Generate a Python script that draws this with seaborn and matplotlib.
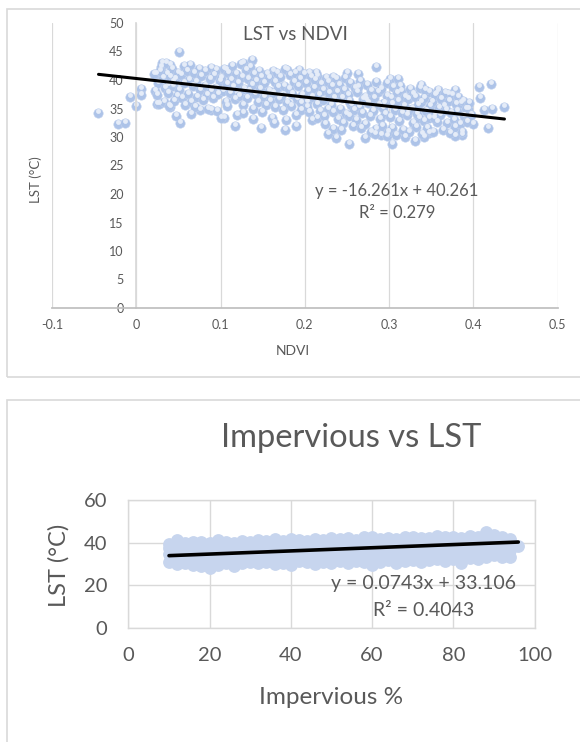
import matplotlib
matplotlib.use('Agg')
import matplotlib.pyplot as plt
import seaborn as sns
import pandas as pd
from matplotlib.patches import Rectangle
from matplotlib.path import Path

# ---- LST vs NDVI scatter ----
ndvi = [
    -0.046, -0.022, -0.013, -0.008, 0.000, 0.006, 0.006, 0.051, 0.052, 0.047, 0.065,
    0.285, 0.253, 0.304, 0.331, 0.407, 0.421, 0.408, 0.413, 0.422, 0.436, 0.418, 0.400, 0.394,
    0.237, 0.271, 0.227, 0.148, 0.117, 0.189, 0.177, 0.137, 0.126, 0.030, 0.040,
    0.263, 0.250, 0.301, 0.311, 0.338, 0.378, 0.358, 0.387, 0.378, 0.347, 0.341, 0.319, 0.290, 0.298,
    0.104, 0.100, 0.088, 0.075, 0.025, 0.040, 0.023, 0.106, 0.162, 0.179, 0.193, 0.205, 0.215, 0.233, 0.356, 0.370,
    0.021, 0.022, 0.024, 0.026, 0.027, 0.029, 0.031, 0.033, 0.028,
    0.034, 0.036, 0.037, 0.039, 0.035, 0.038, 0.040,
    0.042, 0.043, 0.045, 0.046, 0.048, 0.049, 0.044,
    0.051, 0.053, 0.054, 0.056, 0.057, 0.058, 0.060,
    0.061, 0.062, 0.064, 0.065, 0.067, 0.068, 0.070,
    0.071, 0.072, 0.074, 0.076, 0.077, 0.079,
    0.081, 0.082, 0.084, 0.085, 0.087, 0.089, 0.088,
    0.091, 0.092, 0.094, 0.095, 0.097, 0.099, 0.096,
    0.101, 0.103, 0.104, 0.106, 0.107, 0.109, 0.108,
    0.111, 0.112, 0.114, 0.115, 0.117, 0.118, 0.119,
    0.121, 0.122, 0.124, 0.125, 0.127, 0.128, 0.130, 0.126,
    0.131, 0.132, 0.134, 0.135, 0.137, 0.138, 0.140, 0.139,
    0.141, 0.142, 0.144, 0.145, 0.147, 0.149, 0.148,
    0.151, 0.152, 0.154, 0.155, 0.157, 0.159, 0.158,
    0.161, 0.162, 0.164, 0.165, 0.167, 0.169, 0.168, 0.163,
    0.171, 0.172, 0.174, 0.175, 0.177, 0.179, 0.178,
    0.181, 0.182, 0.184, 0.185, 0.187, 0.189, 0.188,
    0.191, 0.192, 0.194, 0.195, 0.197, 0.199, 0.196,
    0.201, 0.202, 0.204, 0.205, 0.207, 0.209, 0.208, 0.203,
    0.211, 0.212, 0.214, 0.215, 0.217, 0.219, 0.218, 0.213,
    0.221, 0.222, 0.224, 0.225, 0.227, 0.229, 0.228, 0.223,
    0.231, 0.232, 0.234, 0.235, 0.237, 0.239, 0.238, 0.233,
    0.241, 0.242, 0.244, 0.245, 0.247, 0.249, 0.248, 0.243,
    0.251, 0.252, 0.254, 0.255, 0.257, 0.259, 0.258, 0.253,
    0.261, 0.262, 0.264, 0.265, 0.267, 0.269, 0.268, 0.263,
    0.271, 0.272, 0.274, 0.275, 0.277, 0.279, 0.278, 0.273,
    0.281, 0.282, 0.284, 0.285, 0.287, 0.289, 0.288, 0.283,
    0.291, 0.292, 0.294, 0.295, 0.297, 0.299, 0.298, 0.293,
    0.301, 0.302, 0.304, 0.305, 0.307, 0.309, 0.308, 0.303,
    0.311, 0.312, 0.314, 0.315, 0.317, 0.319, 0.318, 0.313,
    0.321, 0.322, 0.324, 0.325, 0.327, 0.329, 0.328, 0.323,
    0.331, 0.332, 0.334, 0.335, 0.337, 0.339, 0.338, 0.333,
    0.341, 0.342, 0.344, 0.345, 0.347, 0.349, 0.348, 0.343,
    0.351, 0.352, 0.354, 0.355, 0.357, 0.359, 0.358, 0.353,
    0.361, 0.362, 0.364, 0.365, 0.367, 0.369, 0.368,
    0.371, 0.372, 0.374, 0.375, 0.377, 0.379, 0.378,
    0.381, 0.382, 0.384, 0.385, 0.387, 0.389, 0.388,
    0.391, 0.393, 0.395, 0.397,
]
lst_ndvi = [
    34.2, 32.2, 32.4, 37.0, 35.4, 38.5, 37.3, 44.9, 32.4, 33.7, 34.0,
    42.3, 28.7, 28.8, 29.3, 38.8, 39.3, 36.9, 34.7, 35.0, 35.3, 31.6, 32.3, 35.0,
    29.9, 29.9, 30.6, 31.6, 32.0, 31.9, 31.3, 43.5, 43.0, 43.0, 42.6,
    41.1, 41.2, 40.1, 40.1, 39.2, 38.2, 38.3, 30.3, 30.2, 30.7, 30.0, 30.0, 30.3, 30.2,
    33.3, 33.4, 34.7, 34.7, 35.8, 35.3, 41.1, 41.7, 41.5, 41.7, 41.8, 41.3, 40.7, 40.5, 37.6, 37.5,
    41.0, 38.0, 37.4, 39.5, 35.8, 42.2, 40.3, 36.2, 41.6,
    38.6, 41.0, 39.2, 35.5, 43.0, 37.8, 40.5,
    42.0, 38.9, 36.3, 40.1, 37.2, 41.3, 39.7,
    38.3, 40.8, 36.9, 42.4, 39.4, 35.7, 41.6,
    37.6, 40.0, 42.6, 36.1, 38.9, 41.2, 35.2,
    39.6, 37.0, 42.0, 38.2, 40.7, 36.5,
    41.5, 39.0, 37.4, 35.0, 40.2, 42.1, 38.1,
    36.8, 40.9, 38.6, 41.7, 37.5, 39.8, 34.6,
    40.4, 38.0, 42.0, 36.2, 39.3, 41.3, 35.4,
    37.8, 40.0, 42.4, 38.8, 36.6, 41.0, 33.8,
    39.5, 37.2, 42.8, 40.6, 35.6, 38.4, 41.8, 34.2,
    36.9, 40.2, 38.0, 42.3, 39.2, 35.0, 41.1, 33.2,
    37.6, 39.9, 36.1, 41.6, 38.5, 34.4, 40.6,
    37.0, 39.4, 35.6, 41.0, 38.1, 36.4, 40.3,
    33.4, 37.8, 39.7, 35.2, 41.2, 36.7, 38.7, 32.5,
    40.5, 37.2, 34.7, 39.0, 41.9, 36.0, 33.0,
    38.4, 40.8, 35.5, 37.6, 39.6, 33.8, 41.3,
    36.6, 38.9, 40.1, 34.8, 37.3, 41.0, 35.9,
    39.4, 36.1, 38.0, 34.3, 40.6, 37.1, 32.9, 35.3,
    38.6, 40.0, 35.8, 33.4, 37.4, 39.3, 34.6, 41.2,
    36.5, 38.2, 32.2, 40.3, 34.9, 37.7, 39.6, 33.6,
    35.6, 38.9, 31.4, 36.8, 40.1, 33.1, 37.9, 34.4,
    39.2, 35.0, 36.9, 32.5, 38.3, 34.0, 40.4, 31.2,
    37.3, 33.6, 39.5, 35.7, 31.9, 38.6, 34.8, 36.4,
    33.0, 37.9, 35.3, 39.9, 31.6, 36.6, 34.2, 38.8,
    37.1, 32.3, 39.2, 35.9, 33.7, 38.0, 30.8, 36.5,
    34.5, 36.8, 39.7, 31.4, 37.9, 33.2, 35.6, 30.5,
    38.5, 32.0, 36.0, 34.0, 39.4, 30.9, 37.2, 35.1,
    33.5, 36.9, 31.6, 38.7, 34.7, 37.8, 30.4, 35.8,
    36.3, 32.8, 38.1, 34.2, 31.2, 37.1, 35.4, 39.0,
    33.9, 36.6, 30.8, 38.4, 35.0, 32.4, 37.5, 34.6,
    37.0, 31.7, 35.7, 33.3, 38.6, 30.6, 36.2, 34.1,
    32.8, 36.8, 34.6, 31.5, 37.9, 35.5, 33.4, 38.3,
    36.1, 30.9, 34.0, 37.4, 32.6, 35.1, 38.0, 33.3,
    33.9, 36.7, 31.3, 35.5, 37.8, 32.5, 34.7,
    36.3, 30.7, 34.2, 37.3, 33.0, 35.8, 31.8,
    34.6, 37.1, 32.2, 35.9, 30.8, 33.7, 36.4,
    34.9, 32.6, 36.0, 33.8,
]
assert len(ndvi) == len(lst_ndvi)
ndvi_fit = [-0.045, 0.437]          # ends of the trendline
ndvi_slope, ndvi_icpt = -16.261, 40.261
ndvi_ticks = [-0.1, 0, 0.1, 0.2, 0.3, 0.4, 0.5]
ndvi_tick_labels = ['-0.1', '0', '0.1', '0.2', '0.3', '0.4', '0.5']

# ---- Impervious vs LST (dense band, read per x column) ----
imp_cols = [10, 12, 14, 16, 18, 20, 22, 24, 26, 28, 30, 32, 34, 36, 38, 40, 42, 44,
            46, 48, 50, 52, 54, 56, 58, 60, 62, 64, 66, 68, 70, 72, 74, 76, 78, 80,
            82, 84, 86, 88, 90, 92, 94]
imp_lst = [
    [31.0, 34.5, 37.5, 39.5], [30.0, 33.5, 37.0, 41.0], [30.5, 34.0, 37.5, 40.0],
    [29.5, 33.0, 36.5, 40.5], [29.0, 33.0, 36.8, 40.2], [28.2, 32.0, 36.0, 39.8],
    [29.5, 33.2, 37.0, 41.0], [30.6, 34.0, 37.4, 40.4], [29.2, 33.5, 37.2, 39.6],
    [30.2, 33.8, 37.6, 40.8], [30.8, 34.2, 37.8, 40.5], [30.5, 34.0, 37.5, 41.2],
    [31.0, 34.6, 38.2, 40.6], [30.0, 34.0, 37.8, 41.5], [30.4, 34.2, 38.0, 40.9],
    [29.6, 33.8, 37.9, 41.8], [31.2, 34.8, 38.3, 41.0], [30.8, 34.5, 38.2, 40.7],
    [29.8, 34.0, 38.0, 41.9], [31.0, 34.8, 38.5, 41.2], [30.6, 34.6, 38.6, 42.0],
    [31.5, 35.0, 38.6, 41.6], [30.2, 34.6, 38.8, 42.1], [31.2, 35.0, 38.9, 41.4],
    [30.9, 34.9, 38.8, 42.4], [29.6, 34.2, 38.6, 42.6], [30.8, 34.8, 38.9, 41.8],
    [31.6, 35.4, 39.2, 42.2], [30.6, 35.0, 39.0, 41.6], [31.5, 35.6, 39.6, 42.8],
    [32.0, 35.8, 39.5, 42.4], [31.0, 35.2, 39.3, 42.0], [31.8, 35.6, 39.6, 42.2],
    [32.2, 36.0, 39.8, 43.0], [31.4, 35.6, 39.8, 42.5], [32.4, 36.2, 40.0, 42.8],
    [30.6, 34.5, 38.6, 42.2], [32.6, 36.4, 40.2, 43.2], [32.2, 36.2, 40.2, 42.6],
    [33.2, 37.0, 40.8, 45.0], [34.0, 37.4, 40.6, 43.4], [33.0, 36.8, 40.4, 42.8],
    [33.4, 36.6, 39.8, 41.6],
]
imp_extra_x, imp_extra_y = [96], [38.6]
imp_fit = [10, 96]
imp_slope, imp_icpt = 0.0743, 33.106

imp_df = pd.DataFrame({'imp': imp_cols, 'lst': imp_lst}).explode('lst')
imp_df = pd.concat([imp_df, pd.DataFrame({'imp': imp_extra_x, 'lst': imp_extra_y})])
imp_df = imp_df.astype(float)

sns.set_theme(style='white')
plt.rcParams['font.family'] = ['Lato', 'DejaVu Sans']
txt = '#595959'
grid_c = '#d9d9d9'

W, H = 580, 742
fig = plt.figure(figsize=(W / 100, H / 100), dpi=100)


def fx(x):
    return x / W


def fy(y):
    return 1 - y / H


# chart-area borders
fig.add_artist(Rectangle((fx(6.5), fy(377)), 1.0, (377 - 9) / H, transform=fig.transFigure,
                         fill=False, edgecolor=grid_c, lw=1.2))
fig.add_artist(Rectangle((fx(6.5), -0.05), 1.0, fy(400) + 0.05, transform=fig.transFigure,
                         fill=False, edgecolor=grid_c, lw=1.2))

# shiny highlight on the upper part of each bubble (Excel style markers)
shine = Path.circle(center=(0, 0.42), radius=0.5)

# ---- top chart ----
ax1 = fig.add_axes([fx(52.2), fy(308), (557.5 - 52.2) / W, (308 - 23) / H])
ax1.set_axisbelow(True)
sns.scatterplot(x=ndvi, y=lst_ndvi, ax=ax1, s=46, color='#adc3e8',
                edgecolor='#c2d2ee', linewidth=0.4, zorder=2)
sns.scatterplot(x=ndvi, y=lst_ndvi, ax=ax1, s=42, marker=shine, color='#e5ecf8',
                linewidth=0, zorder=2.5)
fit1 = [ndvi_slope * v + ndvi_icpt for v in ndvi_fit]
sns.lineplot(x=ndvi_fit, y=fit1, ax=ax1, color='black', lw=2.2, zorder=4)
ax1.set_xlim(-0.1, 0.5)
ax1.set_ylim(0, 50)
ax1.set_xticks(ndvi_ticks)
ax1.set_xticklabels(ndvi_tick_labels)
ax1.set_yticks(range(0, 51, 5))
ax1.grid(axis='x', color=grid_c, lw=0.9)
ax1.grid(axis='y', visible=False)
for s in ['top', 'right']:
    ax1.spines[s].set_visible(False)
ax1.spines['left'].set_position(('data', 0))
ax1.spines['left'].set_color(grid_c)
ax1.spines['bottom'].set_color('#bfbfbf')
ax1.tick_params(axis='both', length=0, labelsize=9, colors=txt)
ax1.tick_params(axis='y', pad=9)
ax1.tick_params(axis='x', pad=8)
ax1.set_xlabel('')
ax1.set_ylabel('')

fig.text(fx(295), fy(35), 'LST vs NDVI', ha='center', va='center', fontsize=13.5, color=txt)
fig.text(fx(36), fy(180), 'LST (°C)', ha='center', va='center', rotation=90, fontsize=9.5, color=txt)
fig.text(fx(293), fy(351), 'NDVI', ha='center', va='center', fontsize=10, color=txt)
fig.text(fx(397), fy(191), 'y = -16.261x + 40.261', ha='center', va='center', fontsize=12, color=txt)
fig.text(fx(397), fy(213), 'R² = 0.279', ha='center', va='center', fontsize=12, color=txt)

# ---- bottom chart ----
ax2 = fig.add_axes([fx(128.4), fy(627.7), (534.5 - 128.4) / W, (627.7 - 500) / H])
ax2.set_axisbelow(True)
sns.scatterplot(data=imp_df, x='imp', y='lst', ax=ax2, s=85, color='#c7d5ee',
                linewidth=0, zorder=2)
fit2 = [imp_slope * v + imp_icpt for v in imp_fit]
sns.lineplot(x=imp_fit, y=fit2, ax=ax2, color='black', lw=2.6, zorder=4)
ax2.set_xlim(0, 100)
ax2.set_ylim(0, 60)
ax2.set_xticks(range(0, 101, 20))
ax2.set_yticks(range(0, 61, 20))
ax2.grid(True, color=grid_c, lw=1.0)
for s in ax2.spines.values():
    s.set_color(grid_c)
    s.set_linewidth(1.0)
ax2.tick_params(axis='both', length=0, labelsize=14.5, colors=txt)
ax2.tick_params(axis='y', pad=15)
ax2.tick_params(axis='x', pad=14)
ax2.set_xlabel('')
ax2.set_ylabel('')

fig.text(fx(351), fy(438), 'Impervious vs LST', ha='center', va='center', fontsize=23.5, color=txt)
fig.text(fx(59), fy(565), 'LST (°C)', ha='center', va='center', rotation=90, fontsize=17, color=txt)
fig.text(fx(331), fy(698), 'Impervious %', ha='center', va='center', fontsize=17.5, color=txt)
fig.text(fx(423.5), fy(584), 'y = 0.0743x + 33.106', ha='center', va='center', fontsize=14, color=txt)
fig.text(fx(423.5), fy(610), 'R² = 0.4043', ha='center', va='center', fontsize=14, color=txt)

fig.savefig('out.png', dpi=100)
